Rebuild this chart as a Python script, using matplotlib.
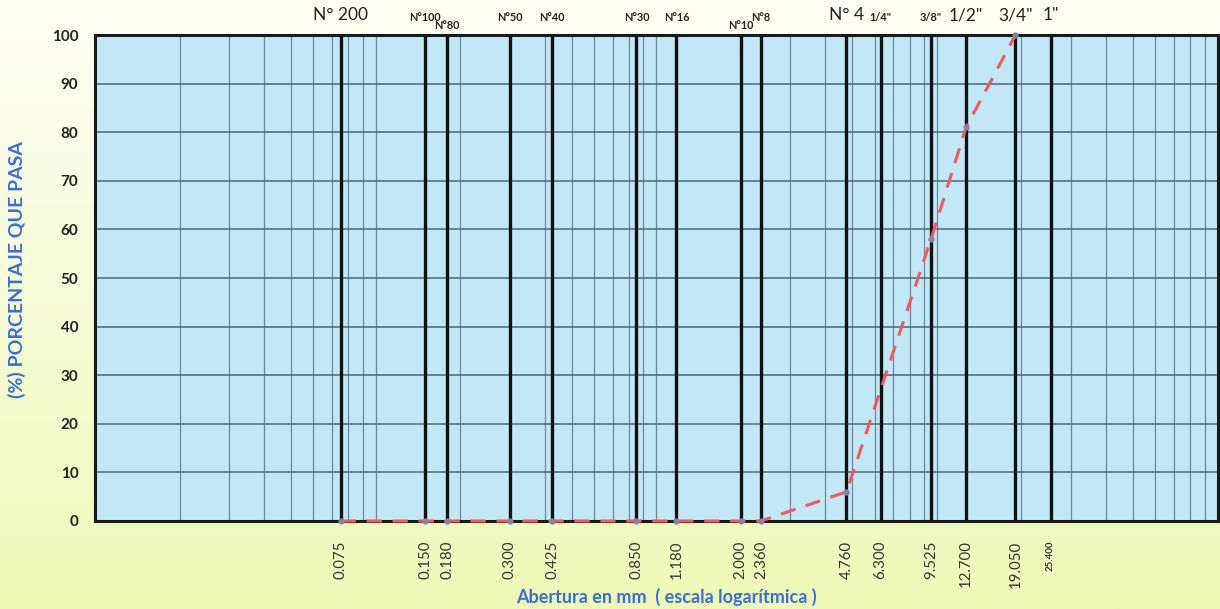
import numpy as np
import matplotlib
matplotlib.use("Agg")
import matplotlib.pyplot as plt

plt.rcParams["font.family"] = ["Lato", "DejaVu Sans"]

# sieve openings (mm) and percent passing
sieve_mm = [0.075, 0.150, 0.180, 0.300, 0.425, 0.850, 1.180, 2.000, 2.360, 4.760, 6.300, 9.525, 12.700, 19.050, 25.400]
sieve_tick = ["0.075", "0.150", "0.180", "0.300", "0.425", "0.850", "1.180", "2.000", "2.360",
              "4.760", "6.300", "9.525", "12.700", "19.050", "25.400"]
sieve_name = ["N° 200", "N°100", "N°80", "N°50", "N°40", "N°30", "N°16", "N°10", "N°8",
              "N° 4", "1/4\"", "3/8\"", "1/2\"", "3/4\"", "1\""]
big_label = [True, False, False, False, False, False, False, False, False,
             True, False, False, True, True, True]
low_label = ["N°80", "N°10"]

curve_mm = [0.075, 0.150, 0.180, 0.300, 0.425, 0.850, 1.180, 2.000, 2.360, 4.760, 9.525, 12.700, 19.050]
curve_pass = [0, 0, 0, 0, 0, 0, 0, 0, 0, 6, 58, 81, 100]

fig = plt.figure(figsize=(12.2, 6.09), dpi=100)

# gradient background
bg = fig.add_axes([0, 0, 1, 1], zorder=-10)
grad = np.linspace(0, 1, 256)[:, None]
cmap = matplotlib.colors.LinearSegmentedColormap.from_list("bg", ["#eef9b8", "#fffff6"])
bg.imshow(grad, aspect="auto", cmap=cmap, origin="lower", extent=[0, 1, 0, 1])
bg.axis("off")

ax = fig.add_axes([0.0779, 0.1445, 0.9201, 0.798])
ax.set_facecolor("#c2e8f7")
ax.set_xscale("log")
ax.set_xlim(0.01, 100)
ax.set_ylim(0, 100)

# log minor grid
for dec in [0.01, 0.1, 1, 10]:
    for m in range(1, 10):
        v = dec * m
        if 0.01 < v < 100:
            ax.axvline(v, color="#6f8797", lw=0.9, zorder=1)
for y in range(10, 100, 10):
    ax.axhline(y, color="#4f6676", lw=1.1, zorder=1)

for x in sieve_mm:
    ax.axvline(x, color="#111111", lw=2.4, zorder=2)

ax.plot(curve_mm, curve_pass, color="#f05a5a", lw=2.2, dashes=(5, 3.5), zorder=6, clip_on=False,
        marker="o", ms=3.5, mfc="#8b7fa8", mec="#8b7fa8")

for s in ax.spines.values():
    s.set_linewidth(2.2)
    s.set_color("#1a1a1a")
    s.set_zorder(5)

ax.set_yticks(range(0, 101, 10))
ax.set_yticklabels([str(v) for v in range(0, 101, 10)], fontsize=11, fontweight="bold", color="#222222")
ax.tick_params(axis="y", length=0, pad=12)

ax.set_xticks(sieve_mm)
ax.set_xticklabels(sieve_tick, rotation=90, fontsize=10.8, color="#333333")
ax.xaxis.set_minor_locator(matplotlib.ticker.NullLocator())
ax.tick_params(axis="x", length=0, pad=14)
lbls = ax.get_xticklabels()
lbls[-1].set_fontsize(7)
lbls[-1].set_fontweight("bold")

for x, name, big in zip(sieve_mm, sieve_name, big_label):
    yy = 1.019 if name in low_label else 1.037
    if big:
        ax.text(x, 1.041, name, transform=ax.get_xaxis_transform(), ha="center", va="center",
                fontsize=12.5, color="#222222")
    else:
        ax.text(x, yy, name, transform=ax.get_xaxis_transform(), ha="center", va="center",
                fontsize=7.8, fontweight="bold", color="#222222")

fig.text(17 / 1220, 0.557, "(%) PORCENTAJE QUE PASA", rotation=90, ha="center", va="center",
         fontsize=14, fontweight="bold", color="#3a6fd2")
fig.text(666 / 1220, 12 / 609, "Abertura en mm  ( escala logarítmica )", ha="center", va="center",
         fontsize=13, fontweight="bold", color="#3a6fd2")

fig.savefig("out.png", dpi=100)
